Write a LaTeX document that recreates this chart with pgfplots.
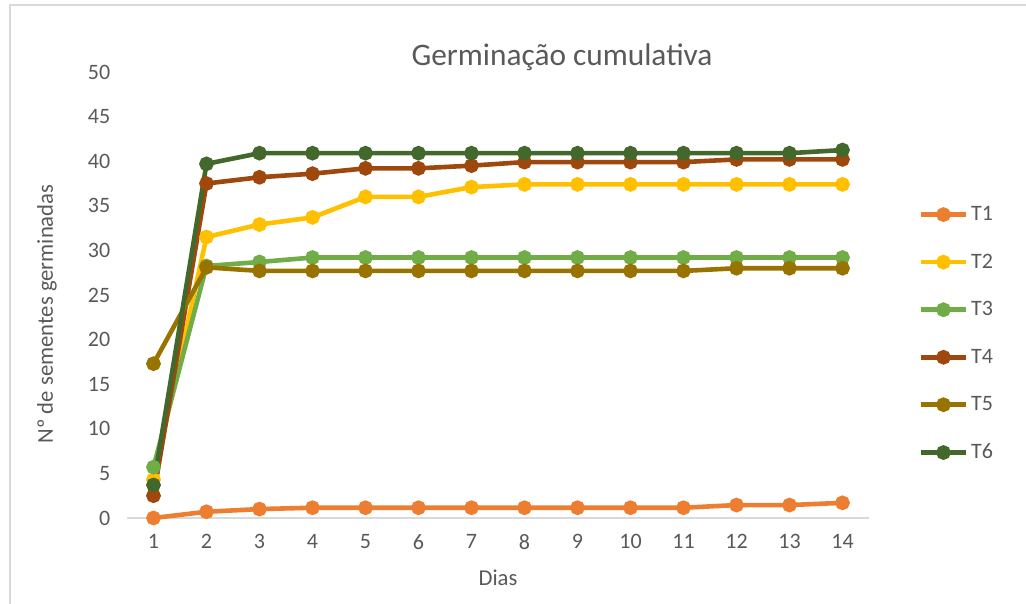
\documentclass[border=0pt]{standalone}
\usepackage{pgfplots}
\pgfplotsset{compat=1.18}
\usepackage{fontspec}
\setmainfont{Carlito}
\newlength\pxu
\setlength\pxu{0.75pt}
\definecolor{tone}{HTML}{ED7D31}
\definecolor{ttwo}{HTML}{FFC000}
\definecolor{tthree}{HTML}{70AD47}
\definecolor{tfour}{HTML}{9E480E}
\definecolor{tfive}{HTML}{997300}
\definecolor{tsix}{HTML}{43682B}
\definecolor{txt}{HTML}{595959}
\definecolor{axl}{HTML}{D9D9D9}
\begin{document}
\begin{tikzpicture}[x=\pxu,y=\pxu]
\path[use as bounding box] (0,0) rectangle (1026,604);
\draw[axl, line width=2\pxu] (10,0) -- (10,599) -- (1026,599);
\begin{axis}[
  at={(127\pxu,86\pxu)}, anchor=south west,
  scale only axis, width=742\pxu, height=446\pxu,
  xmin=0.5, xmax=14.5, ymin=0, ymax=50,
  xtick={1,...,14}, ytick={0,5,...,50},
  axis x line=bottom, axis y line=left,
  x axis line style={axl, line width=1.2\pxu, -},
  y axis line style={draw=none},
  major tick length=0pt,
  tick label style={font=\fontsize{16.5}{19}\selectfont, text=txt},
  /pgf/number format/assume math mode=true,
  xticklabel style={yshift=-12\pxu},
  yticklabel style={xshift=-12\pxu},
  every axis plot/.append style={line width=4.6\pxu, mark=*, mark size=5\pxu},
  legend style={at={(1.061,0.711)}, anchor=north west, draw=none, fill=none,
    font=\fontsize{16.5}{19}\selectfont, text=txt, row sep=26\pxu,
    cells={anchor=west}},
  legend image code/.code={\draw[mark repeat=2,mark phase=2,#1] plot coordinates {(0pt,0pt) (17pt,0pt) (34pt,0pt)};},
  clip=false,
]
\addplot[color=tone] coordinates {(1,0) (2,0.7) (3,1.0) (4,1.15) (5,1.15) (6,1.15) (7,1.15) (8,1.15) (9,1.15) (10,1.15) (11,1.15) (12,1.45) (13,1.45) (14,1.7)};
\addlegendentry{T1}
\addplot[color=ttwo] coordinates {(1,4.3) (2,31.5) (3,32.9) (4,33.7) (5,36.0) (6,36.0) (7,37.1) (8,37.4) (9,37.4) (10,37.4) (11,37.4) (12,37.4) (13,37.4) (14,37.4)};
\addlegendentry{T2}
\addplot[color=tthree] coordinates {(1,5.7) (2,28.25) (3,28.7) (4,29.2) (5,29.2) (6,29.2) (7,29.2) (8,29.2) (9,29.2) (10,29.2) (11,29.2) (12,29.2) (13,29.2) (14,29.2)};
\addlegendentry{T3}
\addplot[color=tfour] coordinates {(1,2.5) (2,37.5) (3,38.2) (4,38.6) (5,39.2) (6,39.2) (7,39.5) (8,39.9) (9,39.9) (10,39.9) (11,39.9) (12,40.2) (13,40.2) (14,40.2)};
\addlegendentry{T4}
\addplot[color=tfive] coordinates {(1,17.3) (2,28.1) (3,27.7) (4,27.7) (5,27.7) (6,27.7) (7,27.7) (8,27.7) (9,27.7) (10,27.7) (11,27.7) (12,28.0) (13,28.0) (14,28.0)};
\addlegendentry{T5}
\addplot[color=tsix] coordinates {(1,3.7) (2,39.7) (3,40.9) (4,40.9) (5,40.9) (6,40.9) (7,40.9) (8,40.9) (9,40.9) (10,40.9) (11,40.9) (12,40.9) (13,40.9) (14,41.25)};
\addlegendentry{T6}
\end{axis}
\node[text=txt, font=\fontsize{23.5}{28}\selectfont] at (562,547) {Germinação cumulativa};
\node[text=txt, font=\fontsize{17}{20}\selectfont, rotate=90] at (47,290) {Nº de sementes germinadas};
\node[text=txt, font=\fontsize{17}{20}\selectfont] at (498,26) {Dias};
\end{tikzpicture}
\end{document}
